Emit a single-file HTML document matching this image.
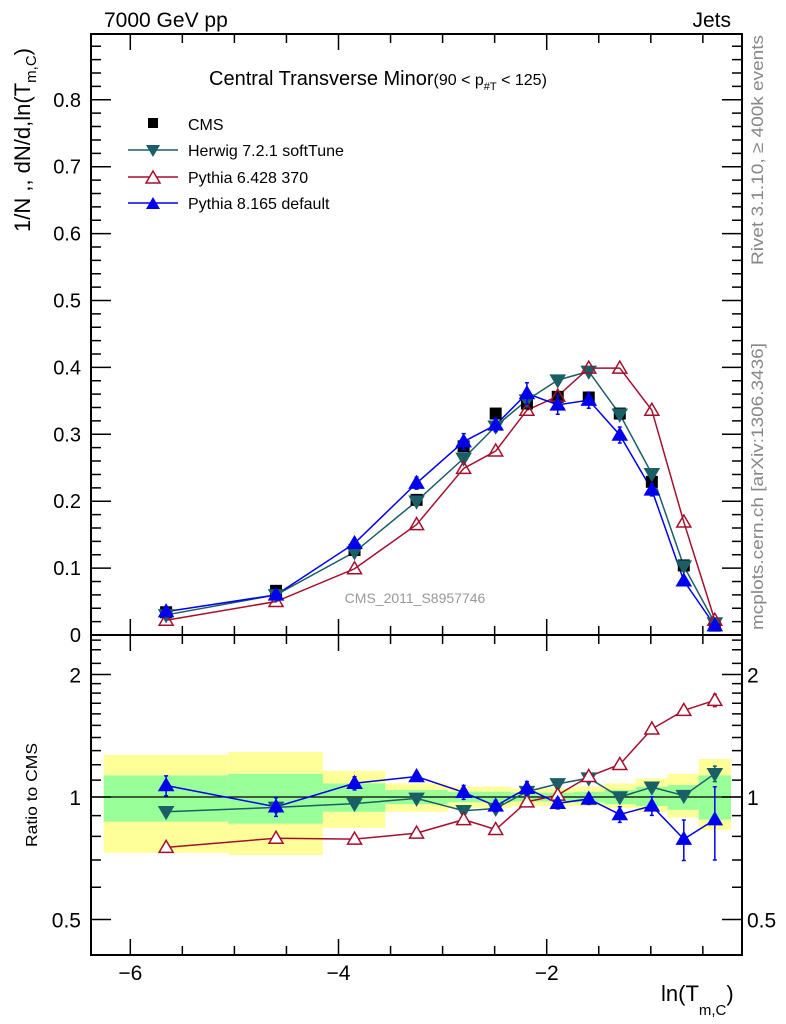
<!DOCTYPE html>
<html><head><meta charset="utf-8">
<style>
html,body{margin:0;padding:0;background:#fff;}
svg{display:block;font-family:"Liberation Sans",sans-serif;}
</style></head>
<body>
<svg id="chart" width="786" height="1024" viewBox="0 0 786 1024" xmlns="http://www.w3.org/2000/svg">
<g id="bands"></g>
<g id="marks"></g>
<g id="axes"></g>
<text x="104" y="27" font-size="21">7000 GeV pp</text>
<text x="731" y="27" font-size="21" text-anchor="end">Jets</text>
<text x="209" y="85" font-size="20">Central Transverse Minor<tspan font-size="16">(90 &lt; p</tspan><tspan font-size="11" dy="5">#T</tspan><tspan font-size="16" dy="-5">  &lt; 125)</tspan></text>
<g>
  <g><rect x="148" y="118" width="10" height="10" fill="#000"/><text x="188" y="130" font-size="16">CMS</text></g>
  <g><line x1="128" y1="150" x2="178" y2="150" stroke="#1a5e66" stroke-width="1.5"/><polygon points="146,145 160,145 153,157" fill="#1a5e66"/><text x="188" y="156" font-size="16">Herwig 7.2.1 softTune</text></g>
  <g><line x1="128" y1="177" x2="178" y2="177" stroke="#a50f2c" stroke-width="1.5"/><polygon points="146,183 160,183 153,171" fill="#fff" stroke="#a50f2c" stroke-width="1.5"/><text x="188" y="183" font-size="16">Pythia 6.428 370</text></g>
  <g><line x1="128" y1="203" x2="178" y2="203" stroke="#0000ee" stroke-width="1.5"/><polygon points="146,209 160,209 153,197" fill="#0000ee"/><text x="188" y="209" font-size="16">Pythia 8.165 default</text></g>
</g>
<text x="415" y="603" font-size="14" fill="#999" text-anchor="middle">CMS_2011_S8957746</text>
<text transform="translate(30,232) rotate(-90)" font-size="22">1/N ,, dN/d,ln(T<tspan font-size="15" dy="6">m,C</tspan><tspan dy="-6">)</tspan></text>
<text transform="translate(37,795) rotate(-90)" font-size="16" text-anchor="middle" textLength="104" lengthAdjust="spacingAndGlyphs">Ratio to CMS</text>
<text x="661" y="1001" font-size="22">ln(T<tspan font-size="15" dy="14">m,C</tspan><tspan dy="-14">)</tspan></text>
<text transform="translate(763,265) rotate(-90)" font-size="17" fill="#888" textLength="230" lengthAdjust="spacingAndGlyphs">Rivet 3.1.10, ≥ 400k events</text>
<text transform="translate(763,630) rotate(-90)" font-size="17" fill="#888" textLength="287" lengthAdjust="spacingAndGlyphs">mcplots.cern.ch [arXiv:1306.3436]</text>
</svg>
<script>
const xs = [-5.656,-4.60,-3.846,-3.25,-2.798,-2.49,-2.19,-1.894,-1.596,-1.298,-0.99,-0.683,-0.385];
const cmsVals = [0.034,0.066,0.127,0.202,0.282,0.331,0.346,0.356,0.355,0.331,0.229,0.104,0.014];
const herwigVals = [0.030,0.060,0.124,0.200,0.264,0.312,0.351,0.381,0.394,0.330,0.241,0.103,0.018];
const py6Vals = [0.022,0.050,0.099,0.165,0.249,0.275,0.336,0.357,0.399,0.399,0.336,0.169,0.022];
const py8Vals = [0.035,0.060,0.137,0.227,0.289,0.314,0.361,0.344,0.351,0.299,0.217,0.081,0.014];
const py8Err = [0.004,0.004,0.006,0.009,0.012,0.010,0.016,0.014,0.012,0.012,0.009,0.006,0.006];
const herwigRatio = [0.92,0.943,0.963,0.992,0.925,0.937,1.031,1.077,1.113,1.0,1.057,1.008,1.141];
const herwigRatioErr = [0.02,0.02,0.01,0.01,0.01,0.01,0.01,0.01,0.01,0.01,0.02,0.02,0.05];
const py6Ratio = [0.752,0.792,0.788,0.815,0.880,0.832,0.973,1.011,1.123,1.202,1.469,1.632,1.728];
const py6RatioErr = [0.02,0.01,0.01,0.01,0.01,0.01,0.01,0.01,0.02,0.02,0.02,0.03,0.06];
const py8Ratio = [1.067,0.946,1.081,1.123,1.027,0.951,1.051,0.965,0.989,0.906,0.951,0.788,0.880];
const py8RatioErr = [0.06,0.05,0.04,0.03,0.04,0.03,0.04,0.03,0.03,0.04,0.05,0.09,0.18];
const yellowHi = [1.27,1.29,1.16,1.08,1.06,1.06,1.05,1.05,1.06,1.08,1.11,1.14,1.24];
const yellowLo = [0.73,0.72,0.84,0.92,0.94,0.94,0.95,0.95,0.95,0.94,0.92,0.89,0.83];
const greenHi = [1.13,1.14,1.08,1.04,1.03,1.03,1.025,1.025,1.03,1.04,1.06,1.07,1.13];
const greenLo = [0.87,0.86,0.92,0.96,0.97,0.97,0.975,0.975,0.97,0.96,0.95,0.93,0.88];
const binEdges = [-6.255,-5.06,-4.15,-3.55,-2.95,-2.64,-2.34,-2.04,-1.745,-1.445,-1.145,-0.84,-0.54,-0.23];
const xTickLabels = [-6,-4,-2];
const yTickLabels = [0,0.1,0.2,0.3,0.4,0.5,0.6,0.7,0.8];
const ratioTickLabels = [0.5,1,2];

const NS="http://www.w3.org/2000/svg";
const L=91,R=742,T=34,M=635,B=955;
const X=v=>130.3+(v+6)*104.1;
const Y=v=>635-v*669;
const RY=v=>797-Math.log2(v)*122.5;
const C={cms:"#000",her:"#1a5e66",p6:"#a50f2c",p8:"#0000ee"};
function mk(tag,attrs,parent){const e=document.createElementNS(NS,tag);for(const k in attrs)e.setAttribute(k,attrs[k]);parent.appendChild(e);return e;}
const bands=document.getElementById('bands'),marks=document.getElementById('marks'),axes=document.getElementById('axes');

for(let i=0;i<xs.length;i++){
  const x0=X(binEdges[i]),x1=X(binEdges[i+1]);
  const yb=mk('rect',{x:x0,y:RY(yellowHi[i]),width:x1-x0,height:RY(yellowLo[i])-RY(yellowHi[i]),fill:"#ffff99"},bands);
  
  
  const gb=mk('rect',{x:x0,y:RY(greenHi[i]),width:x1-x0,height:RY(greenLo[i])-RY(greenHi[i]),fill:"#99ff99"},bands);
  
  
}
const ref=mk('line',{x1:L,x2:R,y1:RY(1),y2:RY(1),stroke:"#000","stroke-width":1.3},marks);



function line(vals,fy,col,name){
  const p=mk('polyline',{points:vals.map((v,i)=>X(xs[i])+","+fy(v)).join(" "),fill:"none",stroke:col,"stroke-width":1.5},marks);
  
  
}
function tri(x,y,up,col,fill,name){
  const pts=up?[[x-7,y+5],[x+7,y+5],[x,y-7]]:[[x-7,y-5],[x+7,y-5],[x,y+7]];
  const t=mk('polygon',{points:pts.map(p=>p.join(",")).join(" "),fill:fill,stroke:col,"stroke-width":1.5},marks);
  
  
}
function errbar(x,y1,y2,col){
  const e=mk('path',{d:`M${x},${y1}V${y2}M${x-2},${y1}h4M${x-2},${y2}h4`,stroke:col,"stroke-width":1.5,fill:"none"},marks);
  
  
}
line(herwigVals,Y,C.her,'herwig-line');
line(py6Vals,Y,C.p6,'pythia6-line');
line(py8Vals,Y,C.p8,'pythia8-line');
xs.forEach((v,i)=>{
  const s=mk('rect',{x:X(v)-6,y:Y(cmsVals[i])-6,width:12,height:12,fill:"#000"},marks);
  
  
});
xs.forEach((v,i)=>tri(X(v),Y(herwigVals[i]),false,C.her,C.her,'herwig-point'));
xs.forEach((v,i)=>tri(X(v),Y(py6Vals[i]),true,C.p6,"none",'pythia6-point'));
xs.forEach((v,i)=>{errbar(X(v),Y(py8Vals[i]+py8Err[i]),Y(py8Vals[i]-py8Err[i]),C.p8);tri(X(v),Y(py8Vals[i]),true,C.p8,C.p8,'pythia8-point');});
line(herwigRatio,RY,C.her,'herwig-ratio-line');
line(py6Ratio,RY,C.p6,'pythia6-ratio-line');
line(py8Ratio,RY,C.p8,'pythia8-ratio-line');
xs.forEach((v,i)=>{errbar(X(v),RY(herwigRatio[i]+herwigRatioErr[i]),RY(herwigRatio[i]-herwigRatioErr[i]),C.her);tri(X(v),RY(herwigRatio[i]),false,C.her,C.her,'herwig-ratio-point');});
xs.forEach((v,i)=>{errbar(X(v),RY(py6Ratio[i]+py6RatioErr[i]),RY(py6Ratio[i]-py6RatioErr[i]),C.p6);tri(X(v),RY(py6Ratio[i]),true,C.p6,"#fff",'pythia6-ratio-point');});
xs.forEach((v,i)=>{errbar(X(v),RY(py8Ratio[i]+py8RatioErr[i]),RY(py8Ratio[i]-py8RatioErr[i]),C.p8);tri(X(v),RY(py8Ratio[i]),true,C.p8,C.p8,'pythia8-ratio-point');});

[[T,M],[M,B]].forEach(([a,b],k)=>{
  const f=mk('rect',{x:L,y:a,width:R-L,height:b-a,fill:"none",stroke:"#000","stroke-width":2},axes);
  
  
});
function tk(d){mk('path',{d:d,stroke:"#000","stroke-width":1.5,fill:"none"},axes);}
for(let v=-6;v<=-0.4;v+=0.5){
  const x=X(v),maj=Math.abs(v-Math.round(v/2)*2)<1e-6;const len=maj?16:9;
  tk(`M${x},${T}v${len}M${x},${M}v${-len}M${x},${M}v${len}M${x},${B}v${-len}`);
}
xTickLabels.forEach(v=>{
  const t=mk('text',{x:X(v),y:980,"font-size":21,"text-anchor":"middle"},axes);t.textContent="\u2212"+Math.abs(v);
  
  
});
for(let v=0;v<=0.89;v+=0.02){
  const y=Y(v),maj=Math.abs(v*10-Math.round(v*10))<1e-6;const len=maj?20:10;
  tk(`M${L},${y}h${len}M${R},${y}h${-len}`);
}
yTickLabels.forEach(v=>{
  const t=mk('text',{x:81,y:Y(v)+7,"font-size":20,"text-anchor":"end"},axes);t.textContent=v===0?"0":v.toFixed(1);
  
  
});
[0.5,0.6,0.7,0.8,0.9,1,1.1,1.2,1.3,1.4,1.5,1.6,1.7,1.8,1.9,2,2.13,2.3,2.43].forEach(v=>{
  const y=RY(v),maj=(v===0.5||v===1||v===2);const len=maj?20:10;
  tk(`M${L},${y}h${len}M${R},${y}h${-len}`);
});
ratioTickLabels.forEach(v=>{
  const t=mk('text',{x:81,y:RY(v)+8,"font-size":21,"text-anchor":"end"},axes);t.textContent=String(v);
  
  
  const t2=mk('text',{x:747,y:RY(v)+8,"font-size":21},axes);t2.textContent=String(v);
  
  
});
</script>
</body></html>
